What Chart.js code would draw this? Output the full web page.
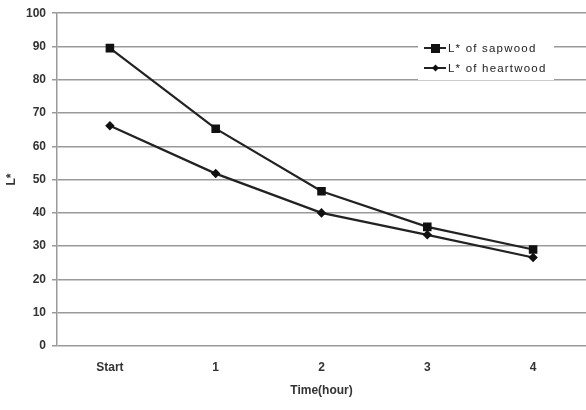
<!DOCTYPE html>
<html><head><meta charset="utf-8">
<script src="https://cdn.jsdelivr.net/npm/chart.js@4/dist/chart.umd.min.js"></script>
<style>html,body{margin:0;padding:0;background:#fff}#wrap{width:586px;height:410px}</style>
</head><body><div id="wrap"><canvas id="c" width="586" height="410"></canvas></div>
<script>
const categories = ["Start", "1", "2", "3", "4"];
const sapwood = [89.5, 65.3, 46.5, 35.8, 29.0];
const heartwood = [66.2, 51.8, 40.0, 33.4, 26.6];
const seriesNames = ["L* of sapwood", "L* of heartwood"];
const xTitle = "Time(hour)";
const yTitle = "L*";

const legendPlugin = {
  id: 'boxLegend',
  afterDatasetsDraw(chart) {
    const ctx = chart.ctx;
    ctx.save();
    ctx.fillStyle = '#fff';
    ctx.fillRect(418, 36, 136, 44);
    const items = chart.data.datasets;
    items.forEach((ds, i) => {
      const y = 48 + i * 20;
      ctx.strokeStyle = '#222';
      ctx.lineWidth = 2;
      ctx.beginPath(); ctx.moveTo(424, y); ctx.lineTo(446, y); ctx.stroke();
      ctx.fillStyle = '#111';
      if (ds.pointStyle === 'rect') {
        ctx.fillRect(431, y - 4, 9, 9);
      } else {
        ctx.beginPath();
        ctx.moveTo(435.5, y - 3.5); ctx.lineTo(439, y); ctx.lineTo(435.5, y + 3.5); ctx.lineTo(432, y);
        ctx.closePath(); ctx.fill();
      }
      ctx.fillStyle = '#222';
      ctx.font = '11.5px "Liberation Sans", Arial, sans-serif';
      if ('letterSpacing' in ctx) ctx.letterSpacing = '1.2px';
      ctx.textBaseline = 'middle';
      ctx.textAlign = 'left';
      ctx.fillText(ds.label, 448, y + 1);
    });
    ctx.restore();
  }
};

const fnt = { family: '"Liberation Sans", Arial, sans-serif', size: 12, weight: 'bold' };

new Chart(document.getElementById('c'), {
  type: 'line',
  data: {
    labels: categories,
    datasets: [
      { label: seriesNames[0], data: sapwood, borderColor: '#222', borderWidth: 2.2, pointStyle: 'rect', pointRadius: 4.5, pointBackgroundColor: '#111', pointBorderColor: '#111', tension: 0, clip: false },
      { label: seriesNames[1], data: heartwood, borderColor: '#222', borderWidth: 2.2, pointStyle: 'rectRot', pointRadius: 3.2, pointBackgroundColor: '#111', pointBorderColor: '#111', tension: 0, clip: false }
    ]
  },
  options: {
    responsive: false,
    animation: false,
    devicePixelRatio: 1,
    layout: { autoPadding: false, padding: { top: 2, right: 0, bottom: 8, left: 0 } },
    plugins: { legend: { display: false }, tooltip: { enabled: false } },
    scales: {
      x: {
        offset: true,
        grid: { display: false, drawTicks: false },
        border: { display: false },
        ticks: { color: '#333', font: fnt, padding: 14 },
        title: { display: true, text: xTitle, color: '#333', font: fnt, padding: { top: 6 } },
        afterFit(s) { s.height = 56; s.paddingLeft = 0; s.paddingRight = 0; }
      },
      y: {
        min: 0, max: 100,
        ticks: { stepSize: 10, color: '#333', font: fnt, padding: 6 },
        grid: { color: '#9a9a9a', lineWidth: 1.5, tickLength: 5 },
        border: { display: true, color: '#9a9a9a', width: 1.5 },
        title: { display: true, text: yTitle, color: '#333', font: fnt },
        afterFit(s) { s.width = 57; }
      }
    }
  },
  plugins: [legendPlugin]
});
</script></body></html>
